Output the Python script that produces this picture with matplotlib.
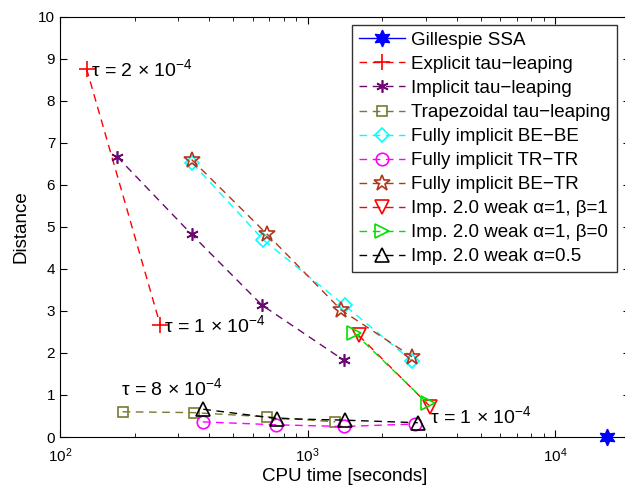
import numpy as np
import matplotlib
matplotlib.use("Agg")
import matplotlib.pyplot as plt

plt.rcParams['font.family'] = ['Liberation Sans', 'DejaVu Sans']
plt.rcParams['mathtext.fontset'] = 'custom'
plt.rcParams['mathtext.rm'] = 'Liberation Sans'
plt.rcParams['mathtext.it'] = 'Liberation Sans:italic'
plt.rcParams['mathtext.default'] = 'regular'

# data
ssa_t = [1.62e4]
ssa_d = [0.0]

expl_t = [128, 254]
expl_d = [8.76, 2.66]

impl_t = [170, 340, 653, 1396]
impl_d = [6.67, 4.82, 3.14, 1.83]

trap_t = [179, 346, 684, 1291]
trap_d = [0.60, 0.58, 0.48, 0.36]

bebe_t = [342, 662, 1409, 2636]
bebe_d = [6.52, 4.69, 3.13, 1.81]

trtr_t = [377, 747, 1396, 2718]
trtr_d = [0.36, 0.29, 0.25, 0.31]

betr_t = [340, 684, 1365, 2636]
betr_d = [6.60, 4.83, 3.02, 1.91]

w11_t = [1604, 3126]
w11_d = [2.42, 0.72]

w10_t = [1541, 3048]
w10_d = [2.48, 0.80]

w05_t = [379, 751, 1419, 2780]
w05_d = [0.66, 0.44, 0.40, 0.34]

M = '\u2212'
labels = ['Gillespie SSA',
          'Explicit tau' + M + 'leaping',
          'Implicit tau' + M + 'leaping',
          'Trapezoidal tau' + M + 'leaping',
          'Fully implicit BE' + M + 'BE',
          'Fully implicit TR' + M + 'TR',
          'Fully implicit BE' + M + 'TR',
          'Imp. 2.0 weak \u03b1=1, \u03b2=1',
          'Imp. 2.0 weak \u03b1=1, \u03b2=0',
          'Imp. 2.0 weak \u03b1=0.5']

fig = plt.figure(figsize=(6.25, 4.86), dpi=100)
ax = fig.add_axes([60/625, 49/486, 570/625, 420.3/486])

dash = (5.5, 4)
ax.plot(ssa_t, ssa_d, '-', color='blue', marker=(6, 1, 0), ms=12, mfc='blue', mec='blue',
        lw=1, clip_on=False, zorder=5, label=labels[0])
ax.plot(expl_t, expl_d, '--', dashes=dash, color='red', marker='+', ms=11, mew=1.2, lw=1, label=labels[1])
ax.plot(impl_t, impl_d, '--', dashes=dash, color='#6a0a6e', marker=(6, 2, 0), ms=9, mew=1.2, lw=1, label=labels[2])
ax.plot(trap_t, trap_d, '--', dashes=dash, color='#7a7a30', marker='s', ms=7.5, mfc='none', mew=1.2, lw=1, label=labels[3])
ax.plot(bebe_t, bebe_d, '--', dashes=dash, color='cyan', marker='D', ms=7.5, mfc='none', mew=1.2, lw=1, label=labels[4])
ax.plot(trtr_t, trtr_d, '--', dashes=dash, color='magenta', marker='o', ms=9, mfc='none', mew=1.2, lw=1, label=labels[5])
ax.plot(betr_t, betr_d, '--', dashes=dash, color='#b0361c', marker='*', ms=12, mfc='none', mew=1.2, lw=1, label=labels[6])
ax.plot(w11_t, w11_d, '--', dashes=dash, color='red', marker='v', ms=9.5, mfc='none', mew=1.2, lw=1, label=labels[7])
ax.plot(w10_t, w10_d, '--', dashes=dash, color='#00e000', marker='>', ms=9.5, mfc='none', mew=1.2, lw=1, label=labels[8])
ax.plot(w05_t, w05_d, '--', dashes=dash, color='black', marker='^', ms=9.5, mfc='none', mew=1.2, lw=1, label=labels[9])

afs = 14
ax.annotate('\u03c4 = 2 \u00d7 10$^{\u22124}$', (expl_t[0], expl_d[0]), xytext=(3, 0),
            textcoords='offset points', ha='left', va='center', fontsize=afs)
ax.annotate('\u03c4 = 1 \u00d7 10$^{\u22124}$', (expl_t[1], expl_d[1]), xytext=(3, 0),
            textcoords='offset points', ha='left', va='center', fontsize=afs)
ax.annotate('\u03c4 = 8 \u00d7 10$^{\u22124}$', (trap_t[0], trap_d[0]), xytext=(-1, 17),
            textcoords='offset points', ha='left', va='center', fontsize=afs)
ax.annotate('\u03c4 = 1 \u00d7 10$^{\u22124}$', (w11_t[1], w11_d[1]), xytext=(0, -7),
            textcoords='offset points', ha='left', va='center', fontsize=afs)

ax.set_xscale('log')
ax.set_xlim(100, 2e4)
ax.set_ylim(0, 10)
ax.set_yticks(range(0, 11))
ax.tick_params(which='both', direction='in', top=True, right=True, labelsize=11)
ax.tick_params(which='major', length=5)
ax.tick_params(which='minor', length=3)
ax.tick_params(axis='x', which='major', pad=7)
ax.set_xlabel('CPU time [seconds]', fontsize=13.5, labelpad=2)
ax.set_ylabel('Distance', fontsize=13.5, labelpad=6)

leg = ax.legend(loc='upper left', bbox_to_anchor=(292/570, 1 - 8.5/420.3), fontsize=13.5,
                handlelength=2.5, frameon=True, fancybox=False, borderpad=0.35,
                labelspacing=0.37, handletextpad=0.28, borderaxespad=0)
leg.get_frame().set_edgecolor('black')
leg.get_frame().set_linewidth(1)

fig.savefig('out.png', dpi=100)
